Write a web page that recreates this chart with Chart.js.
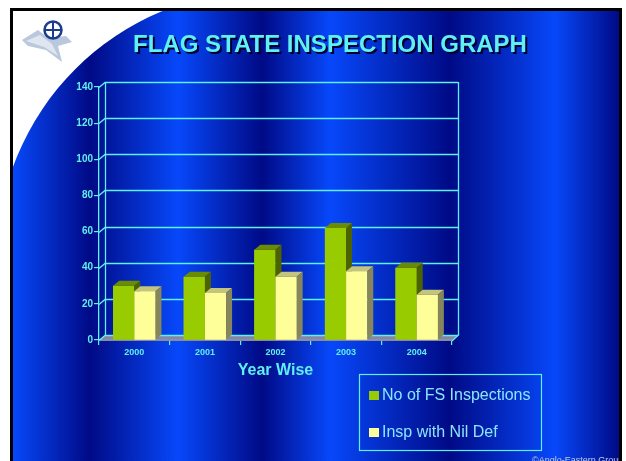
<!DOCTYPE html>
<html>
<head>
<meta charset="utf-8">
<title>Flag State Inspection Graph</title>
<script src="https://cdn.jsdelivr.net/npm/chart.js@4/dist/chart.umd.min.js"></script>
<style>
    html, body { margin: 0; padding: 0; background: #ffffff; }
    canvas { display: block; }
</style>
</head>
<body>
<canvas id="grafico" width="626" height="461"></canvas>
<script>
'use strict';

// dados do gráfico
const anos = ['2000', '2001', '2002', '2003', '2004'];
const inspecoesFS = [30, 35, 50, 62, 40];
const inspSemDef = [27, 26, 35, 38, 25];
const nomesSeries = ['No of FS Inspections', 'Insp with Nil Def'];
const ticksY = [0, 20, 40, 60, 80, 100, 120, 140];

const CIANO = '#5ff0f4';
const DX = 6, DY = 5; // profundidade do efeito 3D

// cores das faces (frente, topo, lado)
const facesVerde = ['#99cc00', '#6b8c00', '#4c6400'];
const facesAmarelo = ['#ffff99', '#c4c47c', '#86865a'];

function fundoSlide(ctx)
{
    const w = 626, h = 461;
    ctx.save();
    ctx.fillStyle = '#ffffff';
    ctx.fillRect(0, 0, w, h);

    // faixas verticais azuis
    const grad = ctx.createLinearGradient(13, 0, 619, 0);
    const claro = '#0748fa', escuro = '#000a86';
    const paragens = [[13, claro], [90, escuro], [178, claro], [262, escuro], [330, claro], [450, escuro], [555, claro], [619, escuro]];
    paragens.forEach(function(p){ grad.addColorStop((p[0] - 13) / 606, p[1]); });
    ctx.fillStyle = grad;
    ctx.fillRect(13, 11, 606, 450);

    // canto branco em curva
    ctx.beginPath();
    ctx.rect(13, 11, 251, 247);
    ctx.clip();
    ctx.beginPath();
    ctx.rect(13, 11, 251, 247);
    ctx.arc(264, 258, 267, 0, Math.PI * 2);
    ctx.fillStyle = '#ffffff';
    ctx.fill('evenodd');
    ctx.restore();

    // moldura preta
    ctx.save();
    ctx.fillStyle = '#000000';
    ctx.fillRect(10, 8, 612, 3);
    ctx.fillRect(10, 8, 3, 453);
    ctx.fillRect(619, 8, 3, 453);
    ctx.restore();

    desenharLogo(ctx);
}

function desenharLogo(ctx)
{
    ctx.save();
    // asa clara
    ctx.fillStyle = '#b9c8dc';
    ctx.beginPath();
    ctx.moveTo(22, 40);
    ctx.lineTo(38, 30);
    ctx.lineTo(48, 38);
    ctx.lineTo(66, 36);
    ctx.lineTo(72, 42);
    ctx.lineTo(58, 46);
    ctx.lineTo(62, 62);
    ctx.lineTo(46, 50);
    ctx.lineTo(28, 46);
    ctx.closePath();
    ctx.fill();
    ctx.fillStyle = '#dfe6f0';
    ctx.beginPath();
    ctx.moveTo(26, 41);
    ctx.lineTo(40, 35);
    ctx.lineTo(52, 44);
    ctx.lineTo(58, 56);
    ctx.lineTo(44, 47);
    ctx.closePath();
    ctx.fill();

    // emblema circular
    ctx.strokeStyle = '#1c3c8c';
    ctx.lineWidth = 2.5;
    ctx.fillStyle = '#ffffff';
    ctx.beginPath();
    ctx.arc(53, 30, 8.5, 0, Math.PI * 2);
    ctx.fill();
    ctx.stroke();
    ctx.lineWidth = 2;
    ctx.beginPath();
    ctx.moveTo(44.5, 30); ctx.lineTo(61.5, 30);
    ctx.moveTo(53, 21.5); ctx.lineTo(53, 38.5);
    ctx.stroke();
    ctx.restore();
}

// parede do fundo, grelha e chão
const pluginParede = {
    id: 'parede',
    beforeDraw(chart) {
        fundoSlide(chart.ctx);
    },
    beforeDatasetsDraw(chart) {
        const ctx = chart.ctx;
        const area = chart.chartArea;
        const escalaY = chart.scales.y;
        ctx.save();

        // chão cinzento
        ctx.fillStyle = 'rgba(140, 140, 160, 0.95)';
        ctx.beginPath();
        ctx.moveTo(area.left, area.bottom + 1);
        ctx.lineTo(area.right, area.bottom + 1);
        ctx.lineTo(area.right + DX, area.bottom - DY);
        ctx.lineTo(area.left + DX, area.bottom - DY);
        ctx.closePath();
        ctx.fill();

        ctx.strokeStyle = CIANO;
        ctx.lineWidth = 1.3;
        ticksY.forEach(function(v){
            const y = Math.round(escalaY.getPixelForValue(v)) + 0.5;
            ctx.beginPath();
            ctx.moveTo(area.left, y);
            ctx.lineTo(area.left + DX, y - DY);
            ctx.lineTo(area.right + DX, y - DY);
            ctx.stroke();
        });

        // arestas da parede
        ctx.beginPath();
        ctx.moveTo(area.left + DX + 0.5, area.top - DY);
        ctx.lineTo(area.left + DX + 0.5, area.bottom - DY);
        ctx.moveTo(area.right + DX + 0.5, area.top - DY);
        ctx.lineTo(area.right + DX + 0.5, area.bottom - DY);
        ctx.lineTo(area.right, area.bottom + 1);
        ctx.stroke();
        ctx.restore();
    }
};

function faces3D(ctx, barra, cores)
{
    const esq = barra.x - barra.width / 2;
    const dir = barra.x + barra.width / 2;
    const topo = barra.y;
    const base = barra.base;

    ctx.fillStyle = cores[1];
    ctx.beginPath();
    ctx.moveTo(esq, topo);
    ctx.lineTo(esq + DX, topo - DY);
    ctx.lineTo(dir + DX, topo - DY);
    ctx.lineTo(dir, topo);
    ctx.closePath();
    ctx.fill();

    ctx.fillStyle = cores[2];
    ctx.beginPath();
    ctx.moveTo(dir, topo);
    ctx.lineTo(dir + DX, topo - DY);
    ctx.lineTo(dir + DX, base - DY);
    ctx.lineTo(dir, base);
    ctx.closePath();
    ctx.fill();
}

// barras em 3D: frente pela própria biblioteca, topo e lado por cima
const pluginBarras3D = {
    id: 'barras3d',
    afterDatasetsDraw(chart) {
        const ctx = chart.ctx;
        const todasCores = [facesVerde, facesAmarelo];
        ctx.save();
        chart.data.datasets.forEach(function(ds, i){
            const meta = chart.getDatasetMeta(i);
            meta.data.forEach(function(barra){
                barra.draw(ctx);
                faces3D(ctx, barra, todasCores[i]);
            });
        });
        ctx.restore();
    }
};

// título, legenda e rodapé
const pluginTextos = {
    id: 'textos',
    afterDraw(chart) {
        const ctx = chart.ctx;
        ctx.save();

        ctx.font = 'bold 24px "Liberation Sans", Arial, sans-serif';
        ctx.textAlign = 'center';
        ctx.textBaseline = 'alphabetic';
        ctx.fillStyle = '#000030';
        ctx.fillText('FLAG STATE INSPECTION GRAPH', 332, 54);
        ctx.fillStyle = CIANO;
        ctx.fillText('FLAG STATE INSPECTION GRAPH', 330, 52);

        // legenda
        ctx.strokeStyle = CIANO;
        ctx.lineWidth = 1.2;
        ctx.strokeRect(359.5, 374.5, 182, 76);
        ctx.font = '16px "Liberation Sans", Arial, sans-serif';
        ctx.textAlign = 'left';
        ctx.textBaseline = 'middle';
        const linhas = [395, 432];
        chart.data.datasets.forEach(function(ds, i){
            ctx.fillStyle = ds.backgroundColor;
            ctx.fillRect(369, linhas[i] - 4, 10, 9);
            ctx.fillStyle = '#8ae6ff';
            ctx.fillText(ds.label, 382, linhas[i] + 1);
        });

        // rodapé cortado pela moldura
        ctx.beginPath();
        ctx.rect(13, 440, 606, 21);
        ctx.clip();
        ctx.font = '9px "Liberation Sans", Arial, sans-serif';
        ctx.textBaseline = 'alphabetic';
        ctx.fillStyle = '#c4c8dc';
        ctx.fillText('©Anglo-Eastern Group', 532, 463);
        ctx.restore();
    }
};

const ctx = document.getElementById('grafico');

const grafico = new Chart(ctx, {
    type: 'bar',
    data: {
        labels: anos,
        datasets: [{
            label: nomesSeries[0],
            data: inspecoesFS,
            backgroundColor: facesVerde[0],
            borderWidth: 0
        }, {
            label: nomesSeries[1],
            data: inspSemDef,
            backgroundColor: facesAmarelo[0],
            borderWidth: 0
        }]
    },
    options: {
        responsive: false,
        animation: false,
        devicePixelRatio: 1,
        categoryPercentage: 0.6,
        barPercentage: 1.0,
        layout: {
            padding: { top: 87, right: 174, bottom: 81, left: 0 }
        },
        scales: {
            x: {
                afterFit: function(escala){ escala.height = 40; },
                grid: { drawOnChartArea: false, color: CIANO, tickLength: 5, lineWidth: 1.2 },
                border: { color: CIANO, width: 1.3 },
                ticks: {
                    color: CIANO,
                    padding: 2,
                    font: { family: '"Liberation Sans", Arial, sans-serif', size: 9, weight: 'bold' }
                },
                title: {
                    display: true,
                    text: 'Year Wise',
                    color: CIANO,
                    padding: 0,
                    font: { family: '"Liberation Sans", Arial, sans-serif', size: 16, weight: 'bold' }
                }
            },
            y: {
                min: 0,
                max: 140,
                afterFit: function(escala){ escala.width = 99; },
                afterBuildTicks: function(escala){
                    escala.ticks = ticksY.map(function(v){ return { value: v }; });
                },
                grid: { drawOnChartArea: false, color: CIANO, tickLength: 5, lineWidth: 1.2 },
                border: { color: CIANO, width: 1.3 },
                ticks: {
                    color: CIANO,
                    padding: 1,
                    font: { family: '"Liberation Sans", Arial, sans-serif', size: 10, weight: 'bold' }
                }
            }
        },
        plugins: {
            legend: { display: false },
            tooltip: { enabled: false }
        }
    },
    plugins: [pluginParede, pluginBarras3D, pluginTextos]
});
</script>
</body>
</html>
